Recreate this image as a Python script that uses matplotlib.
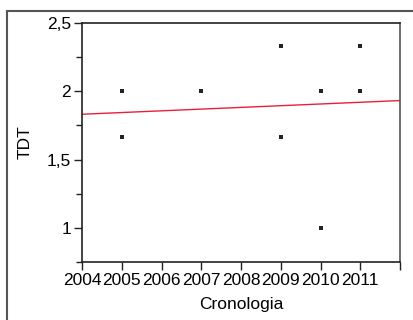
import numpy as np
import matplotlib
matplotlib.use("Agg")
from matplotlib import pyplot as plt
from matplotlib.ticker import FuncFormatter, FixedLocator
from matplotlib.patches import Rectangle

years = [2005, 2005, 2007, 2009, 2009, 2010, 2010, 2011, 2011]
tdt = [2.0, 1.667, 2.0, 2.333, 1.667, 2.0, 1.0, 2.333, 2.0]
xticks = [2004, 2005, 2006, 2007, 2008, 2009, 2010, 2011, 2012]
xlabels = ['2004', '2005', '2006', '2007', '2008', '2009', '2010', '2011', '']

plt.rcParams['font.family'] = ['Liberation Sans', 'DejaVu Sans']

W, H = 413, 320
fig = plt.figure(figsize=(W / 100, H / 100), dpi=100)
ax = fig.add_axes([82 / W, 1 - 262 / H, (400 - 82) / W, (262 - 23) / H])

# outer frame
fig.patches.append(Rectangle((7 / W, -0.1), 1.2, 1 - 11 / H + 0.1,
                             transform=fig.transFigure, fill=False,
                             edgecolor='#555555', linewidth=1.5))

ax.scatter(years, tdt, marker='s', s=5, color='#222222', linewidths=0)

# linear fit
b, a = np.polyfit(years, tdt, 1)
xs = np.array([2004, 2012])
ax.plot(xs, a + b * xs, color='#e8203c', linewidth=1)

ax.set_xlim(2004, 2012)
ax.set_ylim(0.75, 2.5)
ax.xaxis.set_major_locator(FixedLocator(xticks))
ax.set_xticklabels(xlabels)
ax.yaxis.set_major_locator(FixedLocator([1, 1.5, 2, 2.5]))
ax.yaxis.set_minor_locator(FixedLocator([0.75, 1.25, 1.75, 2.25]))
ax.yaxis.set_major_formatter(FuncFormatter(lambda v, p: ('%g' % v).replace('.', ',')))

ax.tick_params(axis='both', which='major', direction='out', length=6, width=1,
               labelsize=12.5, pad=2, color='#222222')
ax.tick_params(axis='y', which='minor', direction='out', length=4, width=1, color='#222222')

for s in ax.spines.values():
    s.set_linewidth(1.2)
    s.set_color('#222222')
ax.spines['right'].set_color('#555555')

ax.set_xlabel('Cronologia', fontsize=12.5)
ax.set_ylabel('TDT', fontsize=12.5)
ax.xaxis.set_label_coords(0.5, -0.148)
ax.yaxis.set_label_coords(-0.155, 0.5)

fig.savefig('out.png', dpi=100)
